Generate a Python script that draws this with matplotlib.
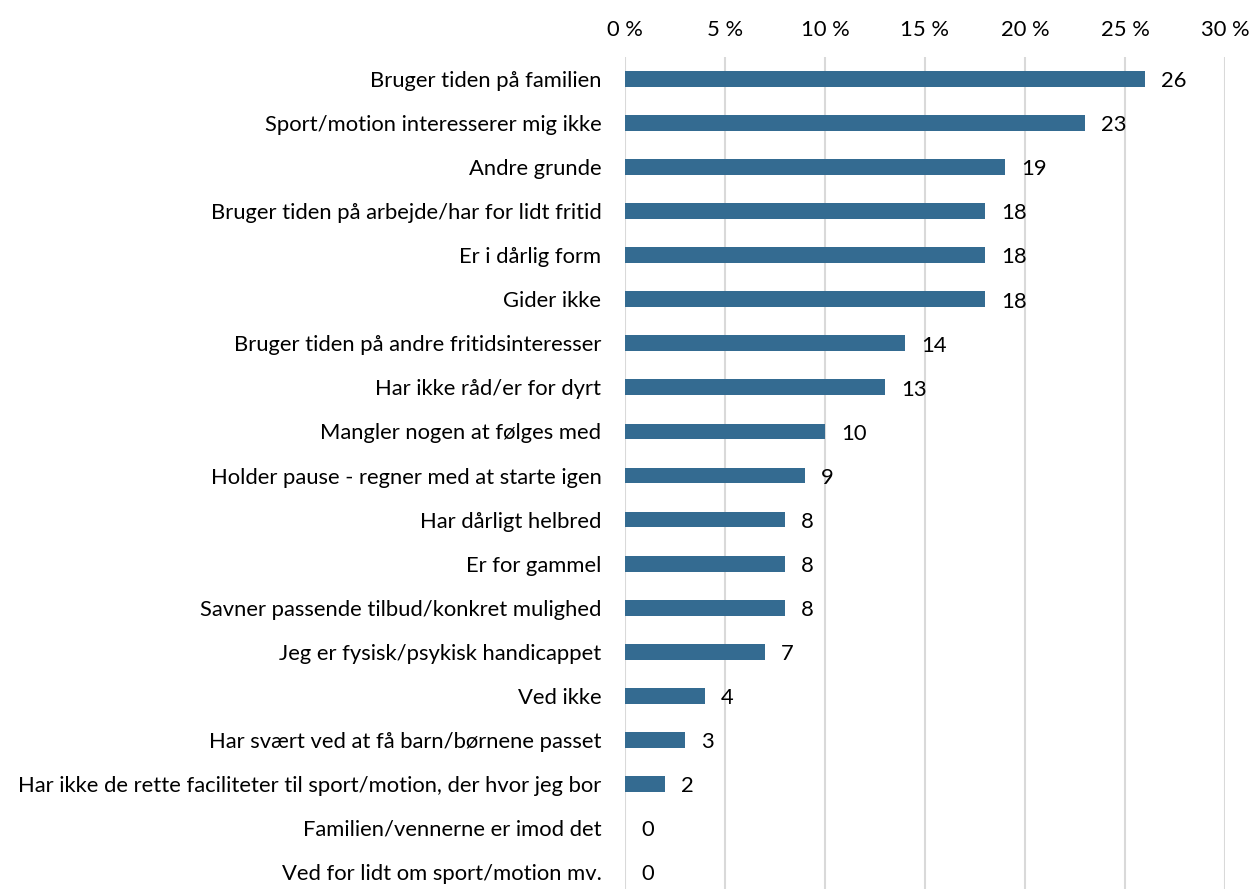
import matplotlib
matplotlib.use("Agg")
import matplotlib.pyplot as plt
import numpy as np

categories = [
    "Bruger tiden på familien",
    "Sport/motion interesserer mig ikke",
    "Andre grunde",
    "Bruger tiden på arbejde/har for lidt fritid",
    "Er i dårlig form",
    "Gider ikke",
    "Bruger tiden på andre fritidsinteresser",
    "Har ikke råd/er for dyrt",
    "Mangler nogen at følges med",
    "Holder pause - regner med at starte igen",
    "Har dårligt helbred",
    "Er for gammel",
    "Savner passende tilbud/konkret mulighed",
    "Jeg er fysisk/psykisk handicappet",
    "Ved ikke",
    "Har svært ved at få barn/børnene passet",
    "Har ikke de rette faciliteter til sport/motion, der hvor jeg bor",
    "Familien/vennerne er imod det",
    "Ved for lidt om sport/motion mv.",
]
values = [26, 23, 19, 18, 18, 18, 14, 13, 10, 9, 8, 8, 8, 7, 4, 3, 2, 0, 0]
xticks = [0, 5, 10, 15, 20, 25, 30]

plt.rcParams["font.family"] = ["Lato", "DejaVu Sans"]
FS = 15.8

W, H = 1252, 889
fig = plt.figure(figsize=(W / 100, H / 100), dpi=100)
ax = fig.add_axes([625 / W, 0, 600 / W, (889 - 57) / H])

y = np.arange(len(categories))
ax.barh(y, values, height=0.36, color="#346b91", zorder=3)
for yi, v in zip(y, values):
    ax.text(v + 0.8, yi + 0.05, f"{v}", va="center", ha="left", fontsize=FS, color="black")

ax.set_xlim(0, 30)
ax.set_ylim(18 + 17 / 44.06, -0.5)
ax.set_xticks(xticks)
ax.set_xticklabels([f"{t} %" for t in xticks], fontsize=FS)
ax.xaxis.tick_top()
ax.tick_params(axis="x", length=0, pad=12)
ax.set_yticks(y)
ax.set_yticklabels(categories, fontsize=FS)
ax.tick_params(axis="y", length=0, pad=17)
ax.grid(axis="x", color="#d9d9d9", linewidth=1.5, zorder=0)
for s in ax.spines.values():
    s.set_visible(False)

fig.savefig("out.png", dpi=100)
